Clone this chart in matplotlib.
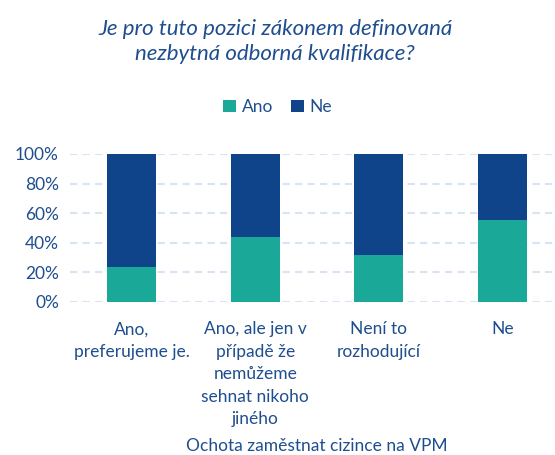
import matplotlib
matplotlib.use("Agg")
import matplotlib.pyplot as plt
import numpy as np

# data
categories = ["Ano,\npreferujeme je.", "Ano, ale jen v\npřípadě že\nnemůžeme\nsehnat nikoho\njiného",
              "Není to\nrozhodující", "Ne"]
ano = [23.3, 43.8, 31.6, 55.3]
ne = [100 - v for v in ano]
yticks = [0, 20, 40, 60, 80, 100]
ytick_labels = ["0%", "20%", "40%", "60%", "80%", "100%"]

title = "Je pro tuto pozici zákonem definovaná\nnezbytná odborná kvalifikace?"
xlabel = "Ochota zaměstnat cizince na VPM"

GREEN = "#1aa898"
NAVY = "#0f438a"
TXT = "#1f4e8f"
GRID = "#d6e4f6"

plt.rcParams['font.family'] = ['Lato', 'DejaVu Sans']

fig = plt.figure(figsize=(5.55, 4.55), dpi=100)
# axes right edge runs past the figure (the original was cropped)
ax = fig.add_axes([70 / 555, (455 - 301.7) / 455, (564 - 70) / 555, 147.7 / 455])

x = np.arange(len(categories))
w = 49 / 123.7
ax.bar(x, ano, width=w, color=GREEN, label="Ano", zorder=3)
ax.bar(x, ne, width=w, bottom=ano, color=NAVY, label="Ne", zorder=3)

ax.set_xlim(-0.5, len(categories) - 0.5)
ax.set_ylim(0, 100)
ax.set_yticks(yticks)
ax.set_yticklabels(ytick_labels)
ax.yaxis.grid(True, color=GRID, linestyle=(0, (3.5, 2.5)), linewidth=1.5, zorder=0)
ax.set_xticks(x)
ax.set_xticklabels(categories, linespacing=1.5, va="top")
ax.tick_params(axis="both", length=0, colors=TXT, labelsize=12.5)
ax.tick_params(axis="x", pad=14)
ax.tick_params(axis="y", pad=8)
for s in ax.spines.values():
    s.set_visible(False)

ax.set_xlabel(xlabel, color=TXT, fontsize=12.5)
ax.xaxis.set_label_coords(0.5, -0.925)

fig.text(0.496, 0.908, title, ha="center", va="center", fontsize=16, style="italic",
         color=TXT, linespacing=1.3)

fig.legend(loc="center", bbox_to_anchor=(0.5, 0.765), ncol=2, frameon=False,
           fontsize=12.5, labelcolor=TXT, handlelength=0.75, handleheight=0.75,
           handletextpad=0.35, columnspacing=1.0)

fig.savefig("out.png", dpi=100)
